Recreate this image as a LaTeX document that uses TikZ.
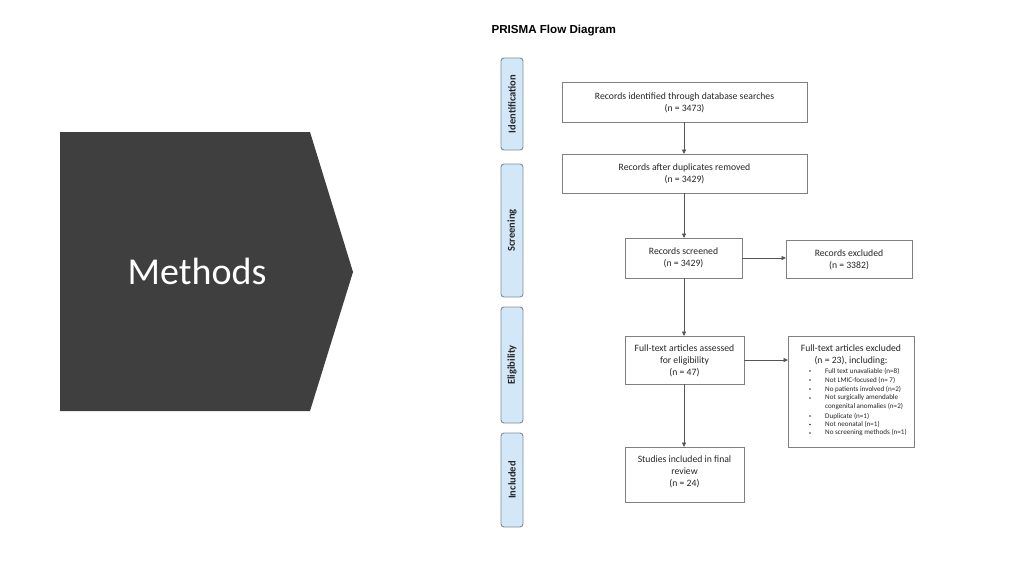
\documentclass[tikz,border=0pt]{standalone}
\usepackage{fontspec}
\setmainfont{Carlito}
\newfontfamily\arialfont{Liberation Sans}
\usetikzlibrary{arrows.meta}
\definecolor{chev}{HTML}{3F3F3F}
\definecolor{phasefill}{HTML}{D2E8F8}
\definecolor{phaseline}{HTML}{7F8C99}
\definecolor{boxline}{HTML}{808080}
\definecolor{conn}{HTML}{555555}
\tikzset{
  phase/.style={draw=phaseline, line width=0.9pt, fill=phasefill, rounded corners=3pt},
  phasetext/.style={rotate=90, font=\fontsize{10.5}{11}\selectfont\bfseries, text=black!85},
  flowbox/.style={draw=boxline, line width=0.8pt, fill=white},
  boxtext/.style={align=center, font=\fontsize{9.7}{12}\selectfont, text=black!85},
  conn/.style={draw=conn, line width=0.7pt, -{Triangle[length=4.5pt,width=4pt]}},
}
\begin{document}
\begin{tikzpicture}[x=1pt,y=-1pt]
\useasboundingbox (0,0) rectangle (1024,576);
\fill[white] (0,0) rectangle (1024,576);
% chevron
\fill[chev] (60,132) -- (310,132) -- (353,272) -- (310,411) -- (60,411) -- cycle;
\node[text=white, font=\fontsize{38}{40}\selectfont] (methods) at (197,271) {Methods};
% title
\node[anchor=west, font=\arialfont\bfseries\fontsize{11.6}{12}\selectfont] (title) at (488,30.5) {PRISMA Flow Diagram};
% phases
\draw[phase] (501,58) rectangle (523,150);
\node[phasetext] (ph1) at (512,104) {Identification};
\draw[phase] (501,164) rectangle (523,297);
\node[phasetext] (ph2) at (512,230.5) {Screening};
\draw[phase] (501,307) rectangle (523,423);
\node[phasetext] (ph3) at (512,365) {Eligibility};
\draw[phase] (501,433) rectangle (523,527);
\node[phasetext] (ph4) at (512,480) {Included};
% boxes
\draw[flowbox] (562,82) rectangle (807,122);
\node[boxtext] (b1) at (684.5,102.5) {Records identified through database searches\\(n = 3473)};
\coordinate (b1s) at (684,122);
\draw[flowbox] (562,154) rectangle (807,193);
\node[boxtext] (b2) at (684.5,173.5) {Records after duplicates removed\\(n = 3429)};
\coordinate (b2n) at (684,154);
\coordinate (b2s) at (684,193);
\draw[flowbox] (625,238) rectangle (742,278);
\node[boxtext] (b3) at (683.5,258) {Records screened\\(n = 3429)};
\coordinate (b3n) at (684,238);
\coordinate (b3s) at (684,278);
\coordinate (b3e) at (742,258);
\draw[flowbox] (786,240) rectangle (912,278);
\node[boxtext] (b4) at (849,259.5) {Records excluded\\(n = 3382)};
\coordinate (b4w) at (786,258);
\draw[flowbox] (625,336) rectangle (744,384);
\node[boxtext] (b5) at (684.5,360.5) {Full-text articles assessed\\for eligibility\\(n = 47)};
\coordinate (b5n) at (684,336);
\coordinate (b5s) at (684,384);
\coordinate (b5e) at (744,360);
\draw[flowbox] (788,336) rectangle (914,447);
\coordinate (b6w) at (788,360);
\node[boxtext] (b6h) at (851,354.5) {Full-text articles excluded\\(n = 23), including:};
\begin{scope}[every node/.style={anchor=west, font=\fontsize{7.1}{8}\selectfont, text=black!85, inner sep=0pt}]
\foreach \y/\t in {371/{Full text unavaliable (n=8)}, 380/{Not LMIC-focused (n= 7)}, 389/{No patients involved (n=2)}, 398/{Not surgically amendable}, 416/{Duplicate (n=1)}, 424.5/{Not neonatal (n=1)}, 433/{No screening methods (n=1)}}{
  \node at (825,\y) {\t};
  \fill[black!80] (810,\y) circle (0.9pt);
}
\node (li) at (825,407) {congenital anomalies (n=2)};
\end{scope}
\draw[flowbox] (625,447) rectangle (744,502);
\node[boxtext] (b7) at (684.5,471.5) {Studies included in final\\review\\(n = 24)};
\coordinate (b7n) at (684,447);
% connectors
\draw[conn] (b1s) -- (b2n);
\draw[conn] (b2s) -- (b3n);
\draw[conn] (b3s) -- (b5n);
\draw[conn] (b5s) -- (b7n);
\draw[conn] (b3e) -- (b4w);
\draw[conn] (b5e) -- (b6w);
\end{tikzpicture}
\end{document}
